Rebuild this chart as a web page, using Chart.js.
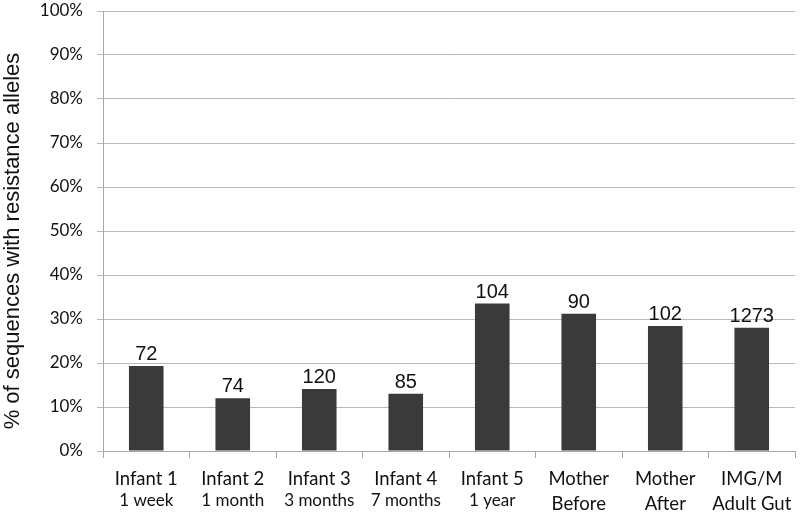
<!DOCTYPE html>
<html>
<head>
<meta charset="utf-8">
<script src="https://cdn.jsdelivr.net/npm/chart.js@4"></script>
<style>
html,body{margin:0;padding:0;background:#fff;}
#wrap{width:800px;height:513px;}
</style>
</head>
<body>
<div id="wrap"><canvas id="c" width="800" height="513"></canvas></div>
<script>
const categories = [
  ["Infant 1","1 week"],["Infant 2","1 month"],["Infant 3","3 months"],["Infant 4","7 months"],
  ["Infant 5","1 year"],["Mother","Before"],["Mother","After"],["IMG/M","Adult Gut"]
];
const percentValues = [19.3, 12.0, 14.1, 13.0, 33.5, 31.2, 28.4, 28.0];
const sequenceCounts = [72, 74, 120, 85, 104, 90, 102, 1273];
const yTitle = "% of sequences with resistance alleles";

const countLabels = {
  id: 'countLabels',
  afterDatasetsDraw(chart) {
    const ctx = chart.ctx;
    const meta = chart.getDatasetMeta(0);
    ctx.save();
    ctx.font = '20px "Liberation Sans", Arial, sans-serif';
    ctx.fillStyle = '#111';
    ctx.textAlign = 'center';
    ctx.textBaseline = 'alphabetic';
    meta.data.forEach((bar, i) => {
      ctx.fillText(String(sequenceCounts[i]), bar.x, bar.y - 6);
    });
    ctx.restore();
  }
};

const xLabels = {
  id: 'xLabels',
  afterDraw(chart) {
    const ctx = chart.ctx;
    const xs = chart.scales.x;
    const top = xs.top;
    ctx.save();
    ctx.fillStyle = '#111';
    ctx.textAlign = 'center';
    ctx.textBaseline = 'alphabetic';
    categories.forEach((c, i) => {
      const x = xs.getPixelForValue(i);
      const bigSecond = /^\D/.test(c[1]);
      ctx.font = '18.5px Lato, "Open Sans", sans-serif';
      ctx.fillText(c[0], x, top + 34);
      ctx.font = bigSecond ? '18.5px Lato, "Open Sans", sans-serif' : '17px Lato, "Open Sans", sans-serif';
      ctx.fillText(c[1], x, top + (bigSecond ? 59 : 55));
    });
    // y-axis title
    const ya = chart.scales.y;
    ctx.translate(13, (ya.top + ya.bottom) / 2 + 10);
    ctx.rotate(-Math.PI / 2);
    ctx.font = '22px "Liberation Sans", Arial, sans-serif';
    ctx.textBaseline = 'middle';
    ctx.fillText(yTitle, 0, 0);
    ctx.restore();
  }
};

new Chart(document.getElementById('c'), {
  type: 'bar',
  data: {
    labels: categories.map(c => c.join(' ')),
    datasets: [{
      data: percentValues,
      backgroundColor: '#3a3a3a',
      borderWidth: 0,
      categoryPercentage: 0.4,
      barPercentage: 1.0
    }]
  },
  options: {
    responsive: false,
    animation: false,
    devicePixelRatio: 1,
    layout: { padding: { top: 11, right: 5, left: 0, bottom: 0 } },
    plugins: { legend: { display: false }, tooltip: { enabled: false } },
    scales: {
      x: {
        offset: true,
        grid: { display: true, drawOnChartArea: false, offset: true, tickLength: 7, color: '#a8a8a8' },
        border: { color: '#a8a8a8' },
        ticks: { display: false },
        afterFit(scale) { scale.height = 62; scale.paddingLeft = 0; scale.paddingRight = 0; }
      },
      y: {
        min: 0, max: 100,
        ticks: {
          stepSize: 10,
          callback: v => v + '%',
          font: { family: 'Lato, "Open Sans", sans-serif', size: 17 },
          color: '#111',
          padding: 14
        },
        grid: { color: '#b8b8b8', tickLength: 6 },
        border: { color: '#a8a8a8' },
        afterFit(scale) { scale.width = 103; scale.paddingTop = 0; scale.paddingBottom = 0; }
      }
    }
  },
  plugins: [countLabels, xLabels]
});
</script>
</body>
</html>
